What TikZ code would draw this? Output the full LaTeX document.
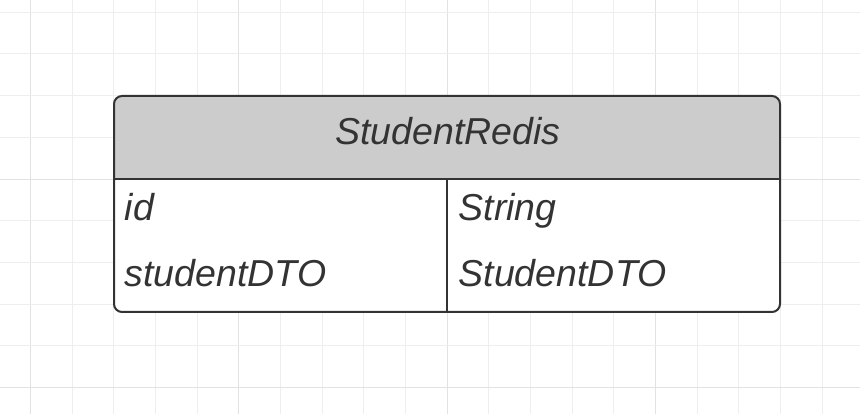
\documentclass[tikz,border=0pt]{standalone}
\usepackage{fontspec}
\setmainfont{Liberation Sans}
\definecolor{gridminor}{HTML}{EEEEEE}
\definecolor{gridmajor}{HTML}{E2E2E2}
\definecolor{headgray}{HTML}{CCCCCC}
\definecolor{ink}{HTML}{333333}
\tikzset{
  boxline/.style={draw=ink, line width=2pt},
  gridline/.style={draw=gridminor, line width=1pt},
  gridstrong/.style={draw=gridmajor, line width=1pt},
  celltext/.style={anchor=base west, inner sep=0pt, text=ink, font=\fontsize{37.5}{45}\selectfont\itshape},
  headtext/.style={anchor=base, inner sep=0pt, text=ink, font=\fontsize{37.5}{45}\selectfont\itshape}
}
\begin{document}
\begin{tikzpicture}[x=1pt,y=-1pt]
\useasboundingbox (0,0) rectangle (860,414);
\fill[white] (0,0) rectangle (860,414);
% grid
\foreach \k in {0,...,19}{
  \pgfmathsetmacro{\xx}{30.33+41.67*\k}
  \pgfmathtruncatemacro{\m}{mod(\k,5)}
  \ifnum\m=0 \draw[gridstrong] (\xx,0) -- (\xx,414); \else \draw[gridline] (\xx,0) -- (\xx,414); \fi
}
\foreach \k in {0,...,9}{
  \pgfmathsetmacro{\yy}{12.33+41.67*\k}
  \pgfmathtruncatemacro{\m}{mod(\k,5)}
  \ifnum\m=4 \draw[gridstrong] (0,\yy) -- (860,\yy); \else \draw[gridline] (0,\yy) -- (860,\yy); \fi
}
% box
\fill[white, rounded corners=8pt] (114,96) rectangle (780,312);
\begin{scope}
  \clip[rounded corners=8pt] (114,96) rectangle (780,312);
  \fill[headgray] (114,96) rectangle (780,179);
\end{scope}
\coordinate (hl) at (114,179);
\coordinate (hr) at (780,179);
\coordinate (dt) at (447,179);
\coordinate (db) at (447,312);
\draw[boxline] (hl) -- (hr);
\draw[boxline] (dt) -- (db);
\draw[boxline, rounded corners=8pt] (114,96) rectangle (780,312);
% texts
\node[headtext] (title) at (448,145) {StudentRedis};
\node[celltext] (f1) at (124.5,221) {id};
\node[celltext] (f2) at (124.5,287) {studentDTO};
\node[celltext] (t1) at (458.5,221) {String};
\node[celltext] (t2) at (458.5,287) {StudentDTO};
\end{tikzpicture}
\end{document}
